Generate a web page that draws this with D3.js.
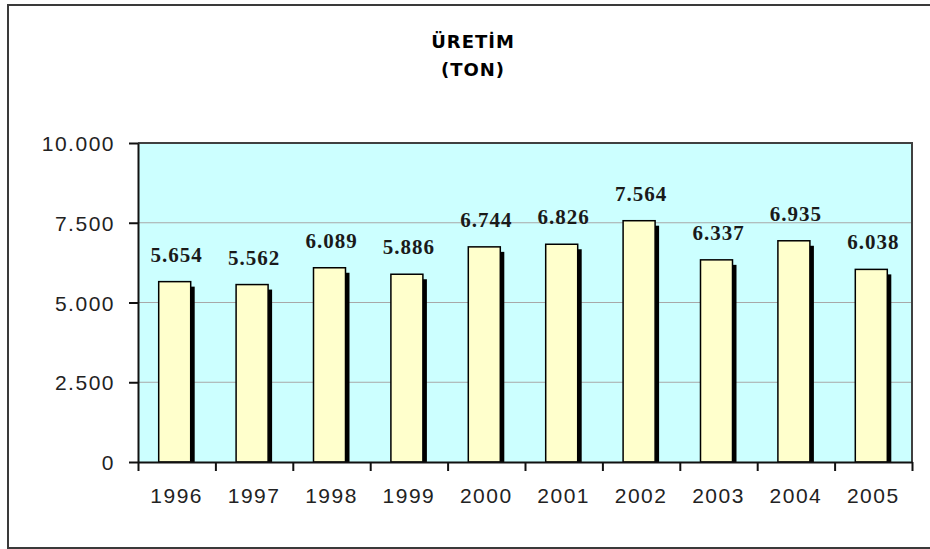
<!DOCTYPE html>
<html>
<head>
<meta charset="utf-8">
<script src="https://cdn.jsdelivr.net/npm/d3@7"></script>
<style>
  body { margin: 0; background: #fff; }
</style>
</head>
<body>
<div class="chart"></div>
<script>
const years = ["1996", "1997", "1998", "1999", "2000", "2001", "2002", "2003", "2004", "2005"];
const production = [5654, 5562, 6089, 5886, 6744, 6826, 7564, 6337, 6935, 6038];
const yTicks = [0, 2500, 5000, 7500, 10000];
const titleLines = ["ÜRETİM", "(TON)"];

const w = 930;
const h = 549;
const plot = { left: 138, top: 143, right: 912, bottom: 462 };

const svg = d3.select(".chart")
  .append("svg")
  .attr("width", w)
  .attr("height", h);

// outer frame (right side runs off the picture)
svg.append("rect")
  .attr("x", 8)
  .attr("y", 5)
  .attr("width", 960)
  .attr("height", 543)
  .attr("fill", "#fff")
  .attr("stroke", "#3a3a3a")
  .attr("stroke-width", 2);

// thousands separator is a dot
const fmt = (v) => d3.format(",")(v).replace(/,/g, ".");

const x = d3.scaleBand()
  .domain(years)
  .range([plot.left, plot.right]);

const y = d3.scaleLinear()
  .domain([0, 10000])
  .range([plot.bottom, plot.top]);

svg.append("rect")
  .attr("x", plot.left)
  .attr("y", plot.top)
  .attr("width", plot.right - plot.left)
  .attr("height", plot.bottom - plot.top)
  .attr("fill", "#ccffff");

// grid lines
svg.append("g")
  .selectAll("line")
  .data(yTicks.filter(d => d > 0 && d < 10000))
  .enter()
  .append("line")
  .attr("x1", plot.left)
  .attr("x2", plot.right)
  .attr("y1", d => y(d))
  .attr("y2", d => y(d))
  .attr("stroke", "#a8a8a8")
  .attr("stroke-width", 1);

// plot border top + right
svg.append("path")
  .attr("d", `M${plot.left},${plot.top}H${plot.right}V${plot.bottom}`)
  .attr("fill", "none")
  .attr("stroke", "#404040")
  .attr("stroke-width", 2);

const barW = 32;
const depth = 4;

const bars = svg.append("g")
  .selectAll("g")
  .data(years)
  .enter()
  .append("g");

// side / shadow
bars.append("rect")
  .attr("x", (d) => x(d) + x.bandwidth() / 2 - (barW + depth) / 2 + depth)
  .attr("y", (d, i) => y(production[i]) + depth + 1)
  .attr("width", barW)
  .attr("height", (d, i) => plot.bottom - y(production[i]) - depth - 1)
  .attr("fill", "#000");

bars.append("rect")
  .attr("x", (d) => x(d) + x.bandwidth() / 2 - (barW + depth) / 2)
  .attr("y", (d, i) => y(production[i]))
  .attr("width", barW)
  .attr("height", (d, i) => plot.bottom - y(production[i]))
  .attr("fill", "#ffffcc")
  .attr("stroke", "#000")
  .attr("stroke-width", 1.5);

bars.append("text")
  .text((d, i) => fmt(production[i]))
  .attr("x", (d) => x(d) + x.bandwidth() / 2)
  .attr("y", (d, i) => y(production[i]) - 20)
  .attr("text-anchor", "middle")
  .attr("font-family", "'Liberation Serif', 'Times New Roman', serif")
  .attr("font-weight", "bold")
  .attr("font-size", 21)
  .attr("letter-spacing", 1)
  .attr("fill", "#1a1a1a");

// y axis
const yAxis = d3.axisLeft(y)
  .tickValues(yTicks)
  .tickSizeInner(9)
  .tickSizeOuter(0)
  .tickPadding(14)
  .tickFormat(fmt);

svg.append("g")
  .attr("transform", `translate(${plot.left},0)`)
  .call(yAxis)
  .call(g => g.selectAll("line, path").attr("stroke", "#111").attr("stroke-width", 2))
  .selectAll("text")
  .attr("font-family", "'Liberation Sans', Arial, sans-serif")
  .attr("font-size", 21)
  .attr("letter-spacing", 1.5)
  .attr("fill", "#222")
  .attr("dy", "0.36em");

// x axis, ticks on category boundaries
const xAxis = d3.axisBottom(d3.scaleLinear().domain([0, years.length]).range([plot.left, plot.right]))
  .ticks(years.length)
  .tickSizeInner(9)
  .tickSizeOuter(0)
  .tickFormat("");

svg.append("g")
  .attr("transform", `translate(0,${plot.bottom})`)
  .call(xAxis)
  .call(g => g.selectAll("line, path").attr("stroke", "#111").attr("stroke-width", 2));

svg.append("g")
  .selectAll("text")
  .data(years)
  .enter()
  .append("text")
  .text(d => d)
  .attr("x", d => x(d) + x.bandwidth() / 2)
  .attr("y", 503)
  .attr("text-anchor", "middle")
  .attr("font-family", "'Liberation Sans', Arial, sans-serif")
  .attr("font-size", 21)
  .attr("letter-spacing", 1.5)
  .attr("fill", "#222");

// title
svg.append("g")
  .selectAll("text")
  .data(titleLines)
  .enter()
  .append("text")
  .text(d => d)
  .attr("x", 473)
  .attr("y", (d, i) => 48 + i * 28)
  .attr("text-anchor", "middle")
  .attr("font-family", "'DejaVu Sans', Verdana, sans-serif")
  .attr("font-weight", "bold")
  .attr("font-size", 18)
  .attr("letter-spacing", 1)
  .attr("fill", "#000");
</script>
</body>
</html>
